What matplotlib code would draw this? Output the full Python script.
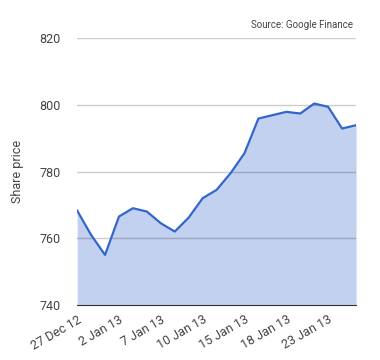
import matplotlib.pyplot as plt

dates = ["27 Dec 12", "28 Dec 12", "31 Dec 12", "2 Jan 13", "3 Jan 13", "4 Jan 13",
         "7 Jan 13", "8 Jan 13", "9 Jan 13", "10 Jan 13", "11 Jan 13", "14 Jan 13",
         "15 Jan 13", "16 Jan 13", "17 Jan 13", "18 Jan 13", "21 Jan 13", "22 Jan 13",
         "23 Jan 13", "24 Jan 13", "25 Jan 13"]
prices = [768.3, 761.0, 755.0, 766.5, 769.0, 768.0, 764.5, 762.0, 766.2, 772.0,
          774.5, 779.5, 785.5, 795.9, 796.9, 797.9, 797.4, 800.4, 799.4, 792.9, 793.9]
y_ticks = [740, 760, 780, 800, 820]

plt.rcParams['font.family'] = ['Roboto', 'DejaVu Sans']

fig = plt.figure(figsize=(3.8, 3.6), dpi=100)
ax = fig.add_axes([0.203, 0.153, 0.734, 0.741])

x = list(range(len(dates)))
ax.fill_between(x, prices, 740, color='#c2d1f0', linewidth=0, zorder=1)
ax.plot(x, prices, color='#3366cc', linewidth=1.6, zorder=3)

ax.set_xlim(0, len(dates) - 1)
ax.set_ylim(740, 820)
ax.set_yticks(y_ticks)
ax.set_xticks(x[::3])
ax.set_xticklabels(dates[::3], rotation=30, ha='right', rotation_mode='anchor')

# grid drawn over the fill, so it darkens there like the original
for t in y_ticks[1:]:
    ax.axhline(t, color='black', alpha=0.2, linewidth=1, zorder=2)

for s in ['top', 'right', 'left']:
    ax.spines[s].set_visible(False)
ax.spines['bottom'].set_color('#333333')
ax.spines['bottom'].set_zorder(4)

ax.tick_params(axis='both', length=0, labelsize=9, colors='#444444')
ax.tick_params(axis='y', pad=12)
ax.tick_params(axis='x', pad=6)

ax.set_ylabel("Share price", fontsize=9, color='#444444', labelpad=11)
ax.text(0.99, 1.03, "Source: Google Finance", transform=ax.transAxes,
        ha='right', va='bottom', fontsize=7, color='#444444')

fig.savefig("out.png", dpi=100)
